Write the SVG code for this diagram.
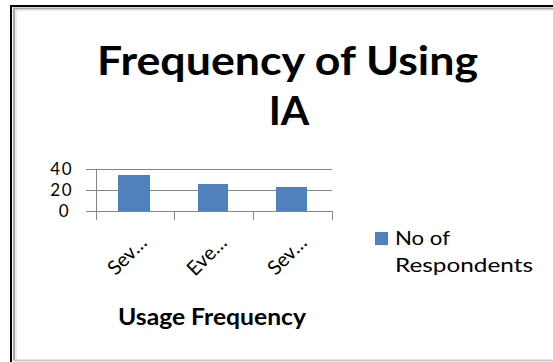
<svg xmlns="http://www.w3.org/2000/svg" width="553" height="362" viewBox="0 0 553 362">
<style>
.t{font-family:Lato,"Open Sans","Liberation Sans",sans-serif;fill:#000}
.b{font-weight:bold}
.y{font-size:17px;letter-spacing:1.5px}
.x{font-size:20px}
.grid{stroke:#868686;stroke-width:1;fill:none}
.bar{fill:#4F81BD}
</style>
<rect width="553" height="362" fill="#fff"/>
<g id="frame">
<path d="M11,362 V6 H553" fill="none" stroke="#000" stroke-width="2"/>
<path d="M14,360.5 V8.5 H553" fill="none" stroke="#a6a6a6" stroke-width="2"/>
<path d="M16,359 V10 H553" fill="none" stroke="#d9d9d9" stroke-width="1"/>
<path d="M14,360.5 H553" fill="none" stroke="#c8c8c8" stroke-width="2"/>
</g>
<g id="title">
<text class="t b" x="287.5" y="75" font-size="41" text-anchor="middle" textLength="381" lengthAdjust="spacingAndGlyphs">Frequency of Using</text>
<text class="t b" x="289" y="125" font-size="41" text-anchor="middle">IA</text>
</g>
<g id="axes">
<path class="grid" d="M86,169.5 H332 M86,190.5 H332 M86,211.5 H332 M96.5,169 V220 M174.5,211 V220 M253.5,211 V220 M332.5,211 V220"/>
</g>
<g id="ylabels">
<text class="t y" x="73" y="175" text-anchor="end">40</text>
<text class="t y" x="73" y="196" text-anchor="end">20</text>
<text class="t y" x="70" y="217" text-anchor="end">0</text>
</g>
<g id="bars">
<rect class="bar" x="118" y="175" width="32" height="36"/>
<rect class="bar" x="198" y="184" width="30" height="27"/>
<rect class="bar" x="276" y="187" width="31" height="24"/>
</g>
<g id="xlabels">
<text class="t x" text-anchor="end" transform="translate(148,244) rotate(-45)">Sev…</text>
<text class="t x" text-anchor="end" transform="translate(228,244) rotate(-45)">Eve…</text>
<text class="t x" text-anchor="end" transform="translate(308,244) rotate(-45)">Sev…</text>
</g>
<g id="xtitle">
<text class="t b" x="212" y="325" font-size="22" text-anchor="middle" textLength="188" lengthAdjust="spacingAndGlyphs">Usage Frequency</text>
</g>
<g id="legend">
<rect class="bar" x="375" y="232" width="13" height="13"/>
<text class="t" x="395" y="245" font-size="20" textLength="55" lengthAdjust="spacingAndGlyphs">No of</text>
<text class="t" x="395" y="272" font-size="20" textLength="138" lengthAdjust="spacingAndGlyphs">Respondents</text>
</g>
</svg>
